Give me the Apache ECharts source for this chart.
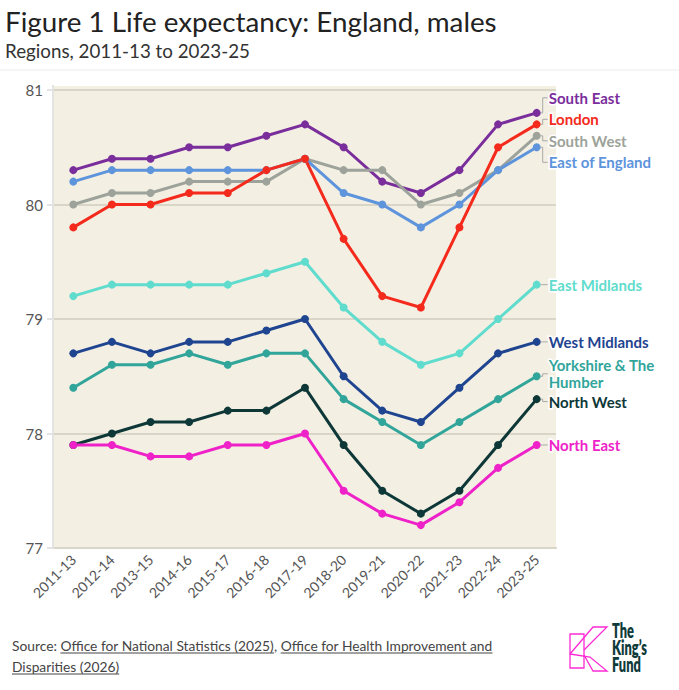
<!DOCTYPE html>
<html>
<head>
<meta charset="utf-8">
<script src="https://cdn.jsdelivr.net/npm/echarts@6/dist/echarts.min.js"></script>
<style>
  html, body { margin: 0; padding: 0; background: #fff; }
  #chart { width: 679px; height: 690px; }
</style>
</head>
<body>
<div id="chart"></div>
<script>
const categories = ['2011-13','2012-14','2013-15','2014-16','2015-17','2016-18','2017-19','2018-20','2019-21','2020-22','2021-23','2022-24','2023-25'];
const yTicks = [77, 78, 79, 80, 81];

const southEast   = [80.3, 80.4, 80.4, 80.5, 80.5, 80.6, 80.7, 80.5, 80.2, 80.1, 80.3, 80.7, 80.8];
const london      = [79.8, 80.0, 80.0, 80.1, 80.1, 80.3, 80.4, 79.7, 79.2, 79.1, 79.8, 80.5, 80.7];
const southWest   = [80.0, 80.1, 80.1, 80.2, 80.2, 80.2, 80.4, 80.3, 80.3, 80.0, 80.1, 80.3, 80.6];
const eastEngland = [80.2, 80.3, 80.3, 80.3, 80.3, 80.3, 80.4, 80.1, 80.0, 79.8, 80.0, 80.3, 80.5];
const eastMid     = [79.2, 79.3, 79.3, 79.3, 79.3, 79.4, 79.5, 79.1, 78.8, 78.6, 78.7, 79.0, 79.3];
const westMid     = [78.7, 78.8, 78.7, 78.8, 78.8, 78.9, 79.0, 78.5, 78.2, 78.1, 78.4, 78.7, 78.8];
const yorkshire   = [78.4, 78.6, 78.6, 78.7, 78.6, 78.7, 78.7, 78.3, 78.1, 77.9, 78.1, 78.3, 78.5];
const northWest   = [77.9, 78.0, 78.1, 78.1, 78.2, 78.2, 78.4, 77.9, 77.5, 77.3, 77.5, 77.9, 78.3];
const northEast   = [77.9, 77.9, 77.8, 77.8, 77.9, 77.9, 78.0, 77.5, 77.3, 77.2, 77.4, 77.7, 77.9];

const seriesNames = ['South East', 'South West', 'East of England', 'London', 'East Midlands', 'West Midlands', 'Yorkshire & The Humber', 'North West', 'North East'];
const seriesLabels = ['South East', 'South West', 'East of England', 'London', 'East Midlands', 'West Midlands', 'Yorkshire & The\nHumber', 'North West', 'North East'];
const seriesData = [southEast, southWest, eastEngland, london, eastMid, westMid, yorkshire, northWest, northEast];
const seriesColors = ['#7a2e9c', '#9da39a', '#5d94dc', '#f42a1c', '#5fdccd', '#1f4490', '#32a59b', '#0e3838', '#ee22c8'];

const titleText = 'Figure 1 Life expectancy: England, males';
const subtitleText = 'Regions, 2011-13 to 2023-25';
const sourceParts = [
  { t: 'Source: ', u: false },
  { t: 'Office for National Statistics (2025)', u: true },
  { t: ', ', u: false },
  { t: 'Office for Health Improvement and', u: true }
];
const sourceLine2 = 'Disparities (2026)';

const ctx = document.createElement('canvas').getContext('2d');
function tw(str, font) { ctx.font = font; return ctx.measureText(str).width; }
function fitSize(str, weight, width) { return 30 * width / tw(str, weight + ' 30px Lato'); }

const chart = echarts.init(document.getElementById('chart'), null, { renderer: 'svg' });
const last = categories.length - 1;

const titleSize = fitSize(titleText, 400, 492);
const subSize = fitSize(subtitleText, 400, 245);
const footSize = fitSize(sourceParts.map(p => p.t).join(''), 400, 481);
const titleFont = '400 ' + titleSize + 'px Lato';
const subFont = '400 ' + subSize + 'px Lato';
const footFont = '400 ' + footSize + 'px Lato';

let fx = 0;
const footChildren = [];
sourceParts.forEach(p => {
  const w = tw(p.t, footFont);
  footChildren.push({ type: 'text', x: fx, y: 0, style: { text: p.t, font: footFont, fill: '#444', verticalAlign: 'middle' } });
  if (p.u) footChildren.push({ type: 'line', shape: { x1: fx, y1: 8, x2: fx + w, y2: 8 }, style: { stroke: '#444', lineWidth: 1 } });
  fx += w;
});
const w2 = tw(sourceLine2, footFont);
footChildren.push({ type: 'text', x: 0, y: 21, style: { text: sourceLine2, font: footFont, fill: '#444', verticalAlign: 'middle' } });
footChildren.push({ type: 'line', shape: { x1: 0, y1: 29, x2: w2, y2: 29 }, style: { stroke: '#444', lineWidth: 1 } });

const logoFont = '800 20px Lato';
const logoScale = 35 / tw('King\u2019s', logoFont);

const baseGraphic = [
  { type: 'text', x: 5, y: 21, style: { text: titleText, font: titleFont, fill: '#222', verticalAlign: 'middle' } },
  { type: 'text', x: 5, y: 50, style: { text: subtitleText, font: subFont, fill: '#333', verticalAlign: 'middle' } },
  { type: 'line', shape: { x1: 0, y1: 70, x2: 679, y2: 70 }, style: { stroke: '#ececec', lineWidth: 1 } },
  { type: 'rect', z: -10, shape: { x: 54, y: 86, width: 502, height: 462 }, style: { fill: '#f3efe3' } },
  { type: 'line', z: -5, shape: { x1: 53, y1: 85, x2: 53, y2: 549 }, style: { stroke: '#e3e3e3', lineWidth: 2 } },
  { type: 'group', x: 12, y: 645, children: footChildren },
  { type: 'polygon', shape: { points: [[570,634],[584,634],[584,668],[570,668]] }, style: { fill: 'none', stroke: '#ff2ad4', lineWidth: 1.3 } },
  { type: 'polyline', shape: { points: [[570,654],[593,627],[607,627],[584,650]] }, style: { fill: 'none', stroke: '#ff2ad4', lineWidth: 1.3 } },
  { type: 'polyline', shape: { points: [[570,654],[590,657],[607,671],[593,671],[584,655]] }, style: { fill: 'none', stroke: '#ff2ad4', lineWidth: 1.3 } },
  { type: 'group', x: 612, y: 0, scaleX: logoScale, children: [
    { type: 'text', x: 0, y: 630, style: { text: 'The', font: logoFont, fill: '#0f3a3a', verticalAlign: 'middle' } },
    { type: 'text', x: 0, y: 647, style: { text: 'King\u2019s', font: logoFont, fill: '#0f3a3a', verticalAlign: 'middle' } },
    { type: 'text', x: 0, y: 664, style: { text: 'Fund', font: logoFont, fill: '#0f3a3a', verticalAlign: 'middle' } }
  ] }
];

function buildSeries(offsets) {
  return seriesNames.map((name, si) => ({
    name: name,
    type: 'line',
    data: seriesData[si].map((v, i) => i === last ? {
      value: v,
      label: {
        show: true,
        position: 'right',
        distance: 8,
        offset: [0, offsets ? offsets[si] : 0],
        formatter: seriesLabels[si],
        color: seriesColors[si],
        fontFamily: 'Lato',
        fontWeight: 'bold',
        fontSize: 15,
        lineHeight: seriesLabels[si].indexOf('\n') >= 0 ? 17 : 20,
        textBorderColor: '#fff',
        textBorderWidth: 3
      }
    } : v),
    symbol: 'circle',
    symbolSize: 8,
    lineStyle: { width: 3, color: seriesColors[si] },
    itemStyle: { color: seriesColors[si] },
    label: { show: false },
    emphasis: { disabled: true },
    animation: false
  }));
}

const option = {
  animation: false,
  graphic: baseGraphic,
  grid: { left: 54, right: 123, top: 90, bottom: 142, containLabel: false },
  xAxis: {
    type: 'category',
    data: categories,
    boundaryGap: true,
    axisLine: { show: true, lineStyle: { color: '#d9d5c7', width: 2 } },
    axisTick: { show: false },
    axisLabel: { rotate: 45, margin: 9, color: '#555', fontFamily: 'Lato', fontSize: 14, interval: 0 }
  },
  yAxis: {
    type: 'value',
    min: yTicks[0], max: yTicks[yTicks.length - 1], interval: 1,
    axisLine: { show: false },
    axisTick: { show: true, length: 7, lineStyle: { color: '#e3e3e3', width: 2 } },
    axisLabel: { margin: 11, color: '#555', fontFamily: 'Lato', fontSize: 15 },
    splitLine: { show: true, lineStyle: { color: '#d9d5c7', width: 2 } }
  },
  series: buildSeries(null)
};
chart.setOption(option);

// Spread end labels vertically so they don't overlap (cluster layout)
const items = seriesNames.map((n, si) => {
  const p = chart.convertToPixel({ seriesIndex: si }, [last, seriesData[si][last]]);
  return { si: si, x: p[0], y: p[1], h: seriesLabels[si].indexOf('\n') >= 0 ? 34 : 21.5 };
}).sort((a, b) => a.y - b.y);

let blocks = [];
items.forEach(it => {
  blocks.push({ items: [it] });
  while (true) {
    blocks.forEach(b => {
      let acc = 0, sum = 0;
      b.items.forEach(m => { sum += m.y - (acc + m.h / 2); acc += m.h; });
      b.top = sum / b.items.length;
      b.height = acc;
    });
    let merged = false;
    for (let k = 1; k < blocks.length; k++) {
      if (blocks[k - 1].top + blocks[k - 1].height > blocks[k].top) {
        blocks[k - 1].items = blocks[k - 1].items.concat(blocks[k].items);
        blocks.splice(k, 1);
        merged = true;
        break;
      }
    }
    if (!merged) break;
  }
});

const offsets = new Array(seriesNames.length).fill(0);
const leaders = [];
blocks.forEach(b => {
  let acc = b.top;
  b.items.forEach(m => {
    const ly = acc + m.h / 2;
    acc += m.h;
    offsets[m.si] = ly - m.y;
    leaders.push({
      type: 'polyline', z: 1,
      shape: { points: [[m.x + 4, m.y], [m.x + 6, m.y], [m.x + 6, ly], [m.x + 11, ly]] },
      style: { fill: 'none', stroke: '#a9a9a9', lineWidth: 1 }
    });
  });
});

chart.setOption({ graphic: baseGraphic.concat(leaders), series: buildSeries(offsets) }, { replaceMerge: ['graphic'] });
</script>
</body>
</html>
